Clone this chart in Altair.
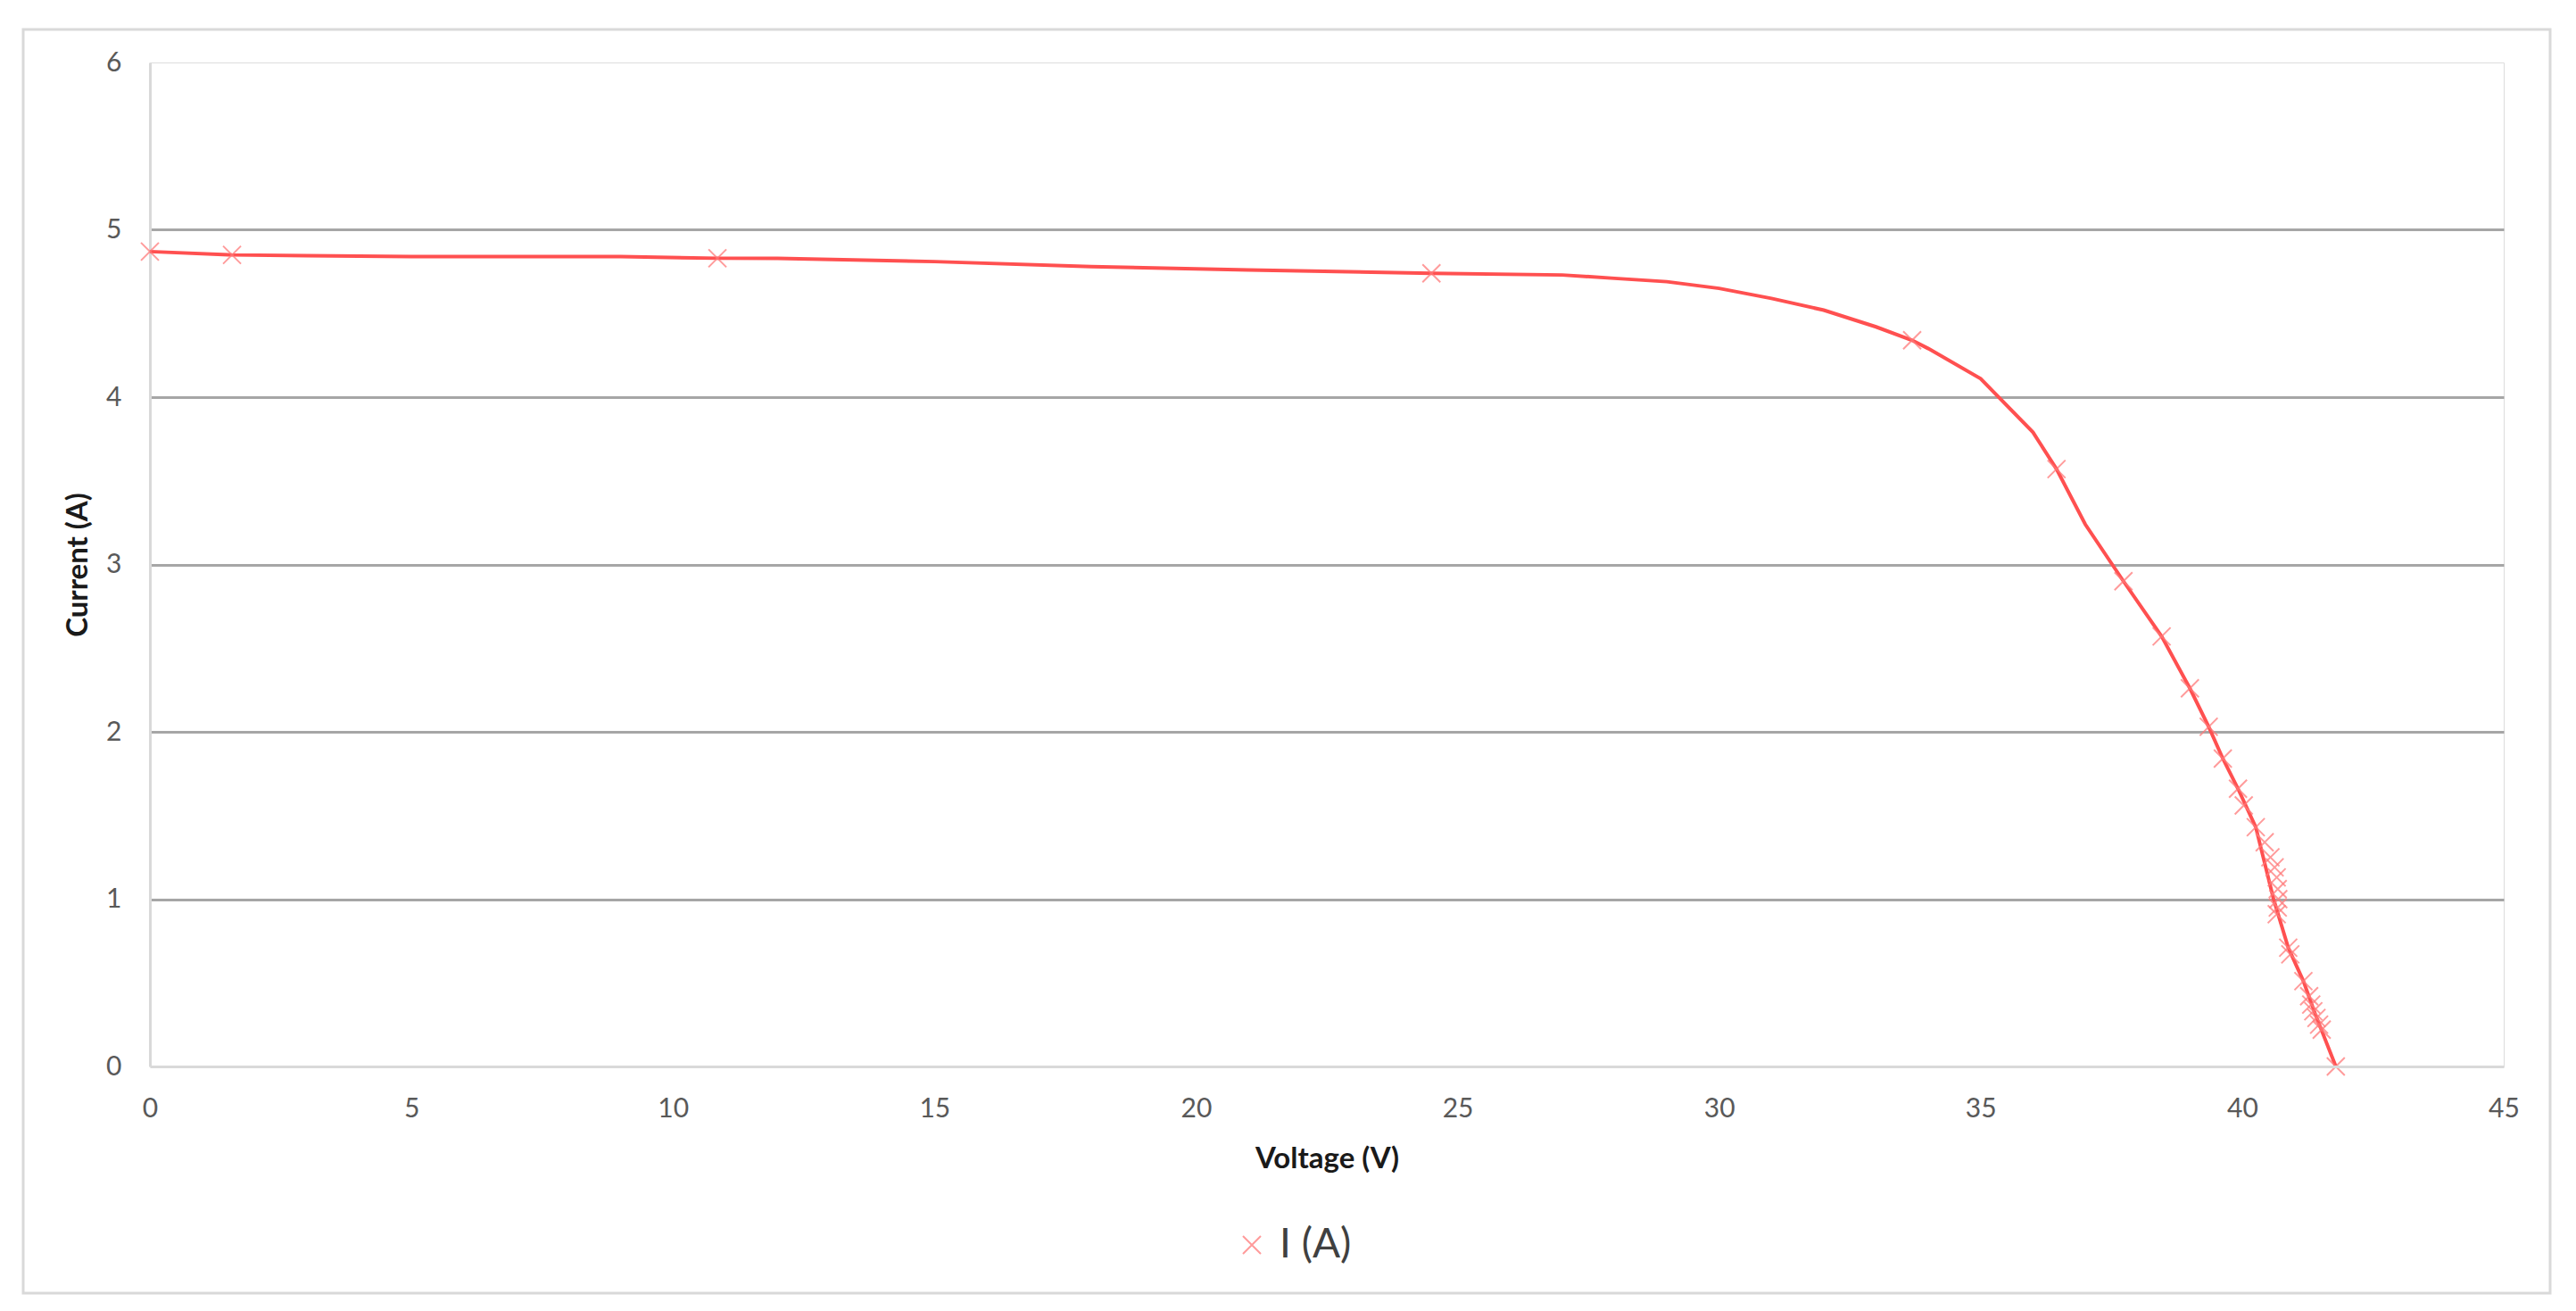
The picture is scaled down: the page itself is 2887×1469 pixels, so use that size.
import altair as alt
import pandas as pd

# ---- data ----
# measured points (markers)
meas_v = [0.0, 1.57, 10.85, 24.5, 33.69, 36.45, 37.73, 38.46, 39.0, 39.36, 39.63,
          39.92, 40.03, 40.26, 40.43, 40.54, 40.62, 40.66, 40.68, 40.69, 40.68, 40.66,
          40.88, 40.92, 41.17, 41.28, 41.32, 41.36, 41.42, 41.47, 41.52, 41.79]
meas_i = [4.87, 4.85, 4.83, 4.74, 4.34, 3.57, 2.90, 2.57, 2.26, 2.03, 1.84,
          1.66, 1.56, 1.43, 1.34, 1.25, 1.19, 1.13, 1.06, 1.00, 0.95, 0.91,
          0.71, 0.67, 0.51, 0.42, 0.37, 0.33, 0.29, 0.25, 0.22, 0.0]

# curve (line)
line_v = [0.0, 1.57, 3, 5, 9, 10.85, 12, 15, 18, 21, 24.5, 27, 28, 29, 30, 31, 32, 33,
          33.69, 34, 35, 36, 36.45, 37, 37.73, 38.46, 39.0, 39.36, 39.63, 39.92, 40.26,
          40.6, 40.88, 41.17, 41.4, 41.79]
line_i = [4.87, 4.85, 4.845, 4.84, 4.84, 4.83, 4.83, 4.81, 4.78, 4.76, 4.74, 4.73, 4.71,
          4.69, 4.65, 4.59, 4.52, 4.42, 4.34, 4.29, 4.11, 3.79, 3.57, 3.24, 2.90, 2.57,
          2.26, 2.03, 1.84, 1.66, 1.43, 1.00, 0.71, 0.51, 0.31, 0.0]

x_ticks = [0, 5, 10, 15, 20, 25, 30, 35, 40, 45]
y_ticks = [0, 1, 2, 3, 4, 5, 6]
series_name = "I (A)"

meas_df = pd.DataFrame({"V": meas_v, "I": meas_i, "series": [series_name] * len(meas_v)})
line_df = pd.DataFrame({"V": line_v, "I": line_i, "idx": list(range(len(line_v)))})

FONT = "Lato"
XPATH = "M -1 -1 L 1 1 M -1 1 L 1 -1"

x_enc = alt.X(
    "V:Q",
    scale=alt.Scale(domain=[0, 45], nice=False, zero=False),
    axis=alt.Axis(
        title="Voltage (V)", values=x_ticks, format="d", labelFlush=False,
        grid=False, ticks=False, tickSize=0,
        domainColor="#d9d9d9", domainWidth=3, labelColor="#595959", labelFontSize=30,
        labelFont=FONT, labelPadding=32, titleFont=FONT, titleFontSize=33,
        titleFontWeight="bold", titleColor="#1a1a1a", titlePadding=25, zindex=1,
    ),
)
y_enc = alt.Y(
    "I:Q",
    scale=alt.Scale(domain=[0, 6], nice=False),
    axis=alt.Axis(
        title="Current (A)", values=y_ticks, format="d", labelFlush=False,
        grid=True, ticks=False, tickSize=0,
        gridColor="#a6a6a6", gridWidth=3,
        gridOpacity={"condition": {"test": "datum.value === 6 || datum.value === 0", "value": 0}, "value": 1},
        domainColor="#d9d9d9", domainWidth=3, labelColor="#595959", labelFontSize=30,
        labelFont=FONT, labelPadding=32, titleFont=FONT, titleFontSize=33,
        titleFontWeight="bold", titleColor="#1a1a1a", titlePadding=14,
    ),
)

border = alt.Chart(pd.DataFrame({"a": [0]})).mark_rect(
    fillOpacity=0, stroke="#d9d9d9", strokeWidth=3
).encode(x=alt.value(-142), x2=alt.value(2690), y=alt.value(-37), y2=alt.value(1379))

line = alt.Chart(line_df).mark_line(color="#ff5050", strokeWidth=4).encode(
    x=x_enc, y=y_enc, order="idx:Q"
)

points = alt.Chart(meas_df).mark_point(
    shape=XPATH, filled=False, size=400, strokeWidth=2, opacity=0.75
).encode(
    x="V:Q",
    y="I:Q",
    color=alt.Color(
        "series:N",
        scale=alt.Scale(range=["#ff7a7a"]),
        legend=alt.Legend(
            title=None, orient="none", legendX=1212, legendY=1302,
            symbolType=XPATH, symbolSize=400, symbolStrokeWidth=2,
            labelFont=FONT, labelFontSize=46, labelColor="#404040", labelOffset=8,
        ),
    ),
)

chart = alt.layer(border, line, points).properties(
    width=2638, height=1125,
    autosize=alt.AutoSizeParams(type="none"),
    padding={"left": 160, "top": 62, "right": 63, "bottom": 256},
).configure_view(strokeWidth=0).configure(background="white")

chart.save("out.html", embed_options={"renderer": "svg", "actions": False})
